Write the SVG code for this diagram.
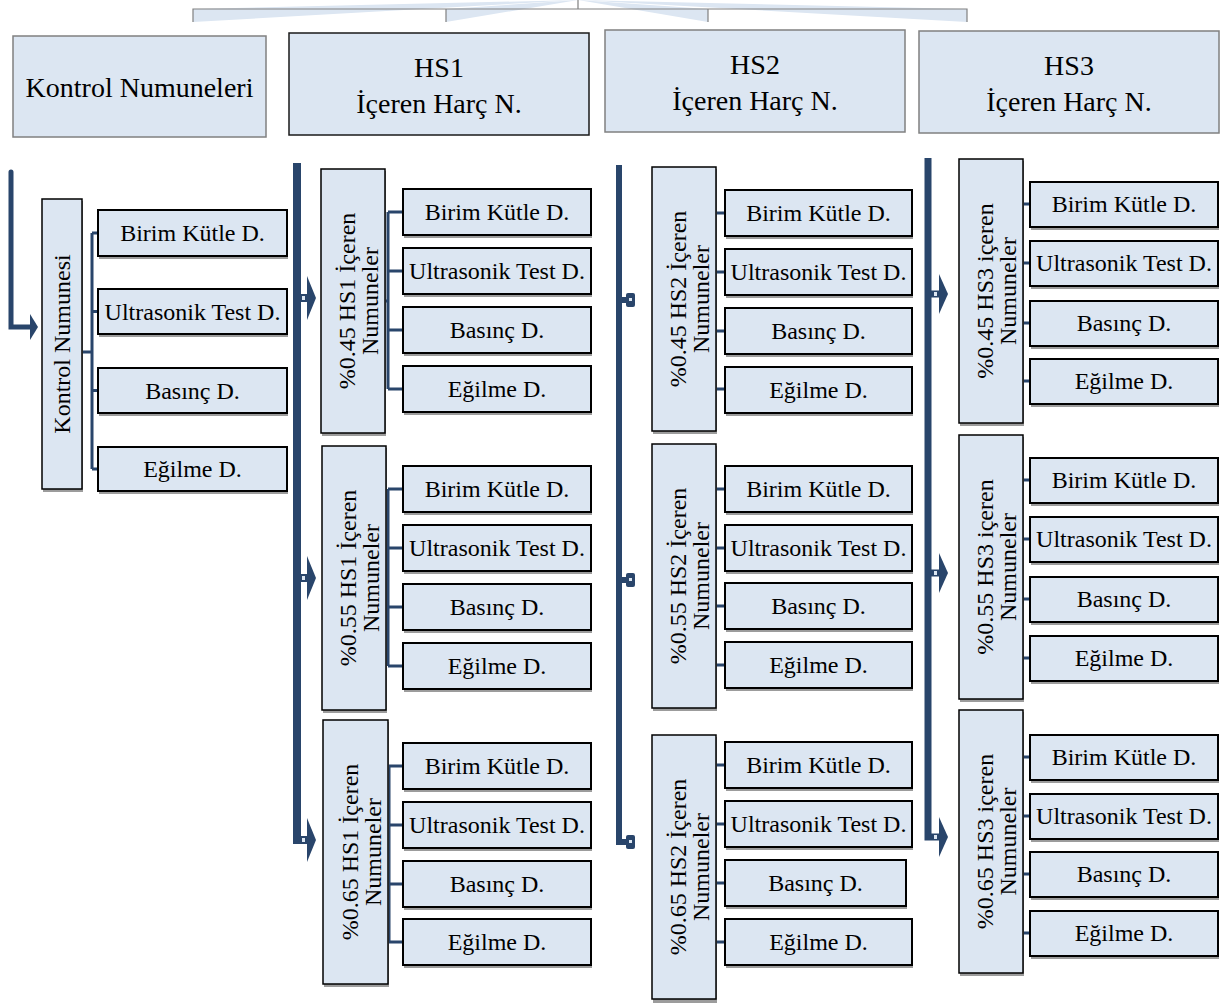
<svg xmlns="http://www.w3.org/2000/svg" width="1225" height="1003" viewBox="0 0 1225 1003">
<style>
.hdr{fill:#dce6f2;stroke:#808080;stroke-width:1.5}
.hdrk{fill:#dce6f2;stroke:#1a1a1a;stroke-width:1.5}
.box{fill:#dce6f2;stroke:#000;stroke-width:2}
.vbox{fill:#dce6f2;stroke:#000;stroke-width:1.5}
.sh{fill:#9c9c9c}
.t{font-family:"Liberation Serif","Times New Roman",serif;font-size:24px;text-anchor:middle;fill:#000}
.th{font-family:"Liberation Serif","Times New Roman",serif;font-size:28px;text-anchor:middle;fill:#000}
.bar{fill:none;stroke:#29456b;stroke-linejoin:miter}
.br{fill:none;stroke:#29456b;stroke-width:3}
.head{fill:#29456b}
.wedge{fill:#dce6f2}
.tl{fill:none;stroke:#808080;stroke-width:1.2}
</style>

<g id="connectors">
  <!-- top connectors -->
  <polygon class="wedge" points="193,9 193,22 578,0"/>
  <polygon class="wedge" points="446,9 446,22 578,0"/>
  <polygon class="wedge" points="708,9 708,22 578,0"/>
  <polygon class="wedge" points="967,9 967,22 578,0"/>
  <path class="tl" d="M578,0 V9 M193,22 V9 H967 V22 M446,9 V22 M708,9 V22"/>

  <!-- left column -->
  <path class="bar" stroke-width="5" stroke-linecap="round" d="M11,172 V327 H30"/>
  <polygon class="head" points="30,314 38,327 30,340"/>
  <path class="br" d="M82,352 H92 M92,233 V469 M92,233 H98 M92,311.5 H98 M92,390.5 H98 M92,469 H98"/>

  <!-- HS1 column -->
  <path class="bar" stroke-width="8" d="M297,163 V840 H308 M297,298 H308 M297,578 H308"/>
  <polygon class="head" points="307,276 316,298 307,320"/>
  <polygon class="head" points="307,556 316,578 307,600"/>
  <polygon class="head" points="307,818 316,840 307,862"/>
  <rect x="302" y="296" width="3" height="4" fill="#dce6f2"/>
  <rect x="302" y="576" width="3" height="4" fill="#dce6f2"/>
  <rect x="302" y="838" width="3" height="4" fill="#dce6f2"/>
  <path class="br" d="M385,301 H388 M388,212 V389 M388,212 H403 M388,271 H403 M388,330 H403 M388,389 H403"/>
  <path class="br" d="M386,578 H388 M388,489 V666 M388,489 H403 M388,548 H403 M388,607 H403 M388,666 H403"/>
  <path class="br" d="M388,852 H389 M389,766 V942 M389,766 H403 M389,825 H403 M389,884 H403 M389,942 H403"/>

  <!-- HS2 column -->
  <path class="bar" stroke-width="6" d="M619,165 V842 H628 M619,300 H628 M619,580 H628"/>
  <rect class="head" x="626" y="293" width="9" height="14" rx="2"/>
  <rect class="head" x="626" y="573" width="9" height="14" rx="2"/>
  <rect class="head" x="626" y="835" width="9" height="14" rx="2"/>
  <rect x="629" y="298" width="3" height="3" fill="#dce6f2"/>
  <rect x="629" y="578" width="3" height="3" fill="#dce6f2"/>
  <rect x="629" y="840" width="3" height="3" fill="#dce6f2"/>
  <path class="br" d="M716,213 H725 M716,272 H725 M716,331 H725 M716,389 H725"/>
  <path class="br" d="M716,489 H725 M716,548 H725 M716,606 H725 M716,665 H725"/>
  <path class="br" d="M716,765 H725 M716,824 H725 M716,883 H725 M716,942 H725"/>

  <!-- HS3 column -->
  <path class="bar" stroke-width="7" d="M928,158 V837 H940 M928,294 H940 M928,573 H940"/>
  <polygon class="head" points="939,274 948,294 939,314"/>
  <polygon class="head" points="939,553 948,573 939,593"/>
  <polygon class="head" points="939,817 948,837 939,857"/>
  <rect x="934" y="292" width="3" height="4" fill="#dce6f2"/>
  <rect x="934" y="571" width="3" height="4" fill="#dce6f2"/>
  <rect x="934" y="835" width="3" height="4" fill="#dce6f2"/>
  <path class="br" d="M1023,204 H1030 M1023,263 H1030 M1023,323 H1030 M1023,381 H1030"/>
  <path class="br" d="M1023,480 H1030 M1023,539 H1030 M1023,599 H1030 M1023,658 H1030"/>
  <path class="br" d="M1023,757 H1030 M1023,816 H1030 M1023,874 H1030 M1023,933 H1030"/>
</g>

<!-- header nodes -->
<g id="kontrol-numuneleri">
  <rect class="hdr" x="13" y="36" width="253" height="101"/>
  <text class="th" x="139.5" y="97">Kontrol Numuneleri</text>
</g>
<g id="hs1">
  <rect class="hdrk" x="289" y="33" width="300" height="102"/>
  <text class="th" x="439" y="77">HS1</text>
  <text class="th" x="439" y="113">İçeren Harç N.</text>
</g>
<g id="hs2">
  <rect class="hdr" x="605" y="30" width="300" height="102"/>
  <text class="th" x="755" y="74">HS2</text>
  <text class="th" x="755" y="110">İçeren Harç N.</text>
</g>
<g id="hs3">
  <rect class="hdr" x="919" y="31" width="300" height="102"/>
  <text class="th" x="1069" y="75">HS3</text>
  <text class="th" x="1069" y="111">İçeren Harç N.</text>
</g>

<!-- Kontrol column -->
<g id="kontrol-numunesi">
  <rect class="sh" x="43" y="201" width="40" height="291"/>
  <rect class="vbox" x="42" y="199" width="40" height="290"/>
  <text class="t" transform="translate(62,344) rotate(-90)" y="8">Kontrol Numunesi</text>
</g>
<g id="k-birim"><rect class="sh" x="99" y="213" width="189" height="46"/><rect class="box" x="98" y="210" width="189" height="46"/><text class="t" x="192.5" y="241">Birim Kütle D.</text></g>
<g id="k-ultra"><rect class="sh" x="99" y="292" width="189" height="45"/><rect class="box" x="98" y="289" width="189" height="45"/><text class="t" x="192.5" y="320">Ultrasonik Test D.</text></g>
<g id="k-basinc"><rect class="sh" x="99" y="371" width="189" height="45"/><rect class="box" x="98" y="368" width="189" height="45"/><text class="t" x="192.5" y="399">Basınç D.</text></g>
<g id="k-egilme"><rect class="sh" x="99" y="450" width="189" height="44"/><rect class="box" x="98" y="447" width="189" height="44"/><text class="t" x="192.5" y="477">Eğilme D.</text></g>

<!-- HS1 column -->
<g id="hs1-045">
  <rect class="sh" x="322" y="171" width="64" height="265"/>
  <rect class="vbox" x="321" y="169" width="64" height="264"/>
  <text class="t" transform="translate(353,301) rotate(-90)"><tspan x="0" y="2">%0.45 HS1 İçeren</tspan><tspan x="0" y="25">Numuneler</tspan></text>
</g>
<g id="hs1-045-birim"><rect class="sh" x="404" y="192" width="188" height="46"/><rect class="box" x="403" y="189" width="188" height="46"/><text class="t" x="497" y="220">Birim Kütle D.</text></g>
<g id="hs1-045-ultra"><rect class="sh" x="404" y="251" width="188" height="46"/><rect class="box" x="403" y="248" width="188" height="46"/><text class="t" x="497" y="279">Ultrasonik Test D.</text></g>
<g id="hs1-045-basinc"><rect class="sh" x="404" y="310" width="188" height="46"/><rect class="box" x="403" y="307" width="188" height="46"/><text class="t" x="497" y="338">Basınç D.</text></g>
<g id="hs1-045-egilme"><rect class="sh" x="404" y="369" width="188" height="46"/><rect class="box" x="403" y="366" width="188" height="46"/><text class="t" x="497" y="397">Eğilme D.</text></g>

<g id="hs1-055">
  <rect class="sh" x="323" y="448" width="64" height="265"/>
  <rect class="vbox" x="322" y="446" width="64" height="264"/>
  <text class="t" transform="translate(354,578) rotate(-90)"><tspan x="0" y="2">%0.55 HS1 İçeren</tspan><tspan x="0" y="25">Numuneler</tspan></text>
</g>
<g id="hs1-055-birim"><rect class="sh" x="404" y="469" width="188" height="46"/><rect class="box" x="403" y="466" width="188" height="46"/><text class="t" x="497" y="497">Birim Kütle D.</text></g>
<g id="hs1-055-ultra"><rect class="sh" x="404" y="528" width="188" height="46"/><rect class="box" x="403" y="525" width="188" height="46"/><text class="t" x="497" y="556">Ultrasonik Test D.</text></g>
<g id="hs1-055-basinc"><rect class="sh" x="404" y="587" width="188" height="46"/><rect class="box" x="403" y="584" width="188" height="46"/><text class="t" x="497" y="615">Basınç D.</text></g>
<g id="hs1-055-egilme"><rect class="sh" x="404" y="646" width="188" height="46"/><rect class="box" x="403" y="643" width="188" height="46"/><text class="t" x="497" y="674">Eğilme D.</text></g>

<g id="hs1-065">
  <rect class="sh" x="324" y="722" width="65" height="265"/>
  <rect class="vbox" x="323" y="720" width="65" height="264"/>
  <text class="t" transform="translate(355.5,852) rotate(-90)"><tspan x="0" y="2">%0.65 HS1 İçeren</tspan><tspan x="0" y="25">Numuneler</tspan></text>
</g>
<g id="hs1-065-birim"><rect class="sh" x="404" y="746" width="188" height="46"/><rect class="box" x="403" y="743" width="188" height="46"/><text class="t" x="497" y="774">Birim Kütle D.</text></g>
<g id="hs1-065-ultra"><rect class="sh" x="404" y="805" width="188" height="46"/><rect class="box" x="403" y="802" width="188" height="46"/><text class="t" x="497" y="833">Ultrasonik Test D.</text></g>
<g id="hs1-065-basinc"><rect class="sh" x="404" y="864" width="188" height="46"/><rect class="box" x="403" y="861" width="188" height="46"/><text class="t" x="497" y="892">Basınç D.</text></g>
<g id="hs1-065-egilme"><rect class="sh" x="404" y="922" width="188" height="46"/><rect class="box" x="403" y="919" width="188" height="46"/><text class="t" x="497" y="950">Eğilme D.</text></g>

<!-- HS2 column -->
<g id="hs2-045">
  <rect class="sh" x="653" y="169" width="64" height="265"/>
  <rect class="vbox" x="652" y="167" width="64" height="264"/>
  <text class="t" transform="translate(684,299) rotate(-90)"><tspan x="0" y="2">%0.45 HS2 İçeren</tspan><tspan x="0" y="25">Numuneler</tspan></text>
</g>
<g id="hs2-045-birim"><rect class="sh" x="726" y="193" width="187" height="46"/><rect class="box" x="725" y="190" width="187" height="46"/><text class="t" x="818.5" y="221">Birim Kütle D.</text></g>
<g id="hs2-045-ultra"><rect class="sh" x="726" y="252" width="187" height="46"/><rect class="box" x="725" y="249" width="187" height="46"/><text class="t" x="818.5" y="280">Ultrasonik Test D.</text></g>
<g id="hs2-045-basinc"><rect class="sh" x="726" y="311" width="187" height="46"/><rect class="box" x="725" y="308" width="187" height="46"/><text class="t" x="818.5" y="339">Basınç D.</text></g>
<g id="hs2-045-egilme"><rect class="sh" x="726" y="370" width="187" height="46"/><rect class="box" x="725" y="367" width="187" height="46"/><text class="t" x="818.5" y="398">Eğilme D.</text></g>

<g id="hs2-055">
  <rect class="sh" x="653" y="446" width="64" height="265"/>
  <rect class="vbox" x="652" y="444" width="64" height="264"/>
  <text class="t" transform="translate(684,576) rotate(-90)"><tspan x="0" y="2">%0.55 HS2 İçeren</tspan><tspan x="0" y="25">Numuneler</tspan></text>
</g>
<g id="hs2-055-birim"><rect class="sh" x="726" y="469" width="187" height="46"/><rect class="box" x="725" y="466" width="187" height="46"/><text class="t" x="818.5" y="497">Birim Kütle D.</text></g>
<g id="hs2-055-ultra"><rect class="sh" x="726" y="528" width="187" height="46"/><rect class="box" x="725" y="525" width="187" height="46"/><text class="t" x="818.5" y="556">Ultrasonik Test D.</text></g>
<g id="hs2-055-basinc"><rect class="sh" x="726" y="586" width="187" height="46"/><rect class="box" x="725" y="583" width="187" height="46"/><text class="t" x="818.5" y="614">Basınç D.</text></g>
<g id="hs2-055-egilme"><rect class="sh" x="726" y="645" width="187" height="46"/><rect class="box" x="725" y="642" width="187" height="46"/><text class="t" x="818.5" y="673">Eğilme D.</text></g>

<g id="hs2-065">
  <rect class="sh" x="653" y="737" width="64" height="266"/>
  <rect class="vbox" x="652" y="735" width="64" height="264"/>
  <text class="t" transform="translate(684,867) rotate(-90)"><tspan x="0" y="2">%0.65 HS2 İçeren</tspan><tspan x="0" y="25">Numuneler</tspan></text>
</g>
<g id="hs2-065-birim"><rect class="sh" x="726" y="745" width="187" height="46"/><rect class="box" x="725" y="742" width="187" height="46"/><text class="t" x="818.5" y="773">Birim Kütle D.</text></g>
<g id="hs2-065-ultra"><rect class="sh" x="726" y="804" width="187" height="46"/><rect class="box" x="725" y="801" width="187" height="46"/><text class="t" x="818.5" y="832">Ultrasonik Test D.</text></g>
<g id="hs2-065-basinc"><rect class="sh" x="726" y="863" width="181" height="46"/><rect class="box" x="725" y="860" width="181" height="46"/><text class="t" x="815.5" y="891">Basınç D.</text></g>
<g id="hs2-065-egilme"><rect class="sh" x="726" y="922" width="187" height="46"/><rect class="box" x="725" y="919" width="187" height="46"/><text class="t" x="818.5" y="950">Eğilme D.</text></g>

<!-- HS3 column -->
<g id="hs3-045">
  <rect class="sh" x="960" y="161" width="64" height="265"/>
  <rect class="vbox" x="959" y="159" width="64" height="264"/>
  <text class="t" transform="translate(991,291) rotate(-90)"><tspan x="0" y="2">%0.45 HS3 içeren</tspan><tspan x="0" y="25">Numuneler</tspan></text>
</g>
<g id="hs3-045-birim"><rect class="sh" x="1031" y="185" width="188" height="45"/><rect class="box" x="1030" y="182" width="188" height="45"/><text class="t" x="1124" y="212">Birim Kütle D.</text></g>
<g id="hs3-045-ultra"><rect class="sh" x="1031" y="244" width="188" height="45"/><rect class="box" x="1030" y="241" width="188" height="45"/><text class="t" x="1124" y="271">Ultrasonik Test D.</text></g>
<g id="hs3-045-basinc"><rect class="sh" x="1031" y="304" width="188" height="45"/><rect class="box" x="1030" y="301" width="188" height="45"/><text class="t" x="1124" y="331">Basınç D.</text></g>
<g id="hs3-045-egilme"><rect class="sh" x="1031" y="362" width="188" height="45"/><rect class="box" x="1030" y="359" width="188" height="45"/><text class="t" x="1124" y="389">Eğilme D.</text></g>

<g id="hs3-055">
  <rect class="sh" x="960" y="437" width="64" height="265"/>
  <rect class="vbox" x="959" y="435" width="64" height="264"/>
  <text class="t" transform="translate(991,567) rotate(-90)"><tspan x="0" y="2">%0.55 HS3 içeren</tspan><tspan x="0" y="25">Numuneler</tspan></text>
</g>
<g id="hs3-055-birim"><rect class="sh" x="1031" y="461" width="188" height="45"/><rect class="box" x="1030" y="458" width="188" height="45"/><text class="t" x="1124" y="488">Birim Kütle D.</text></g>
<g id="hs3-055-ultra"><rect class="sh" x="1031" y="520" width="188" height="45"/><rect class="box" x="1030" y="517" width="188" height="45"/><text class="t" x="1124" y="547">Ultrasonik Test D.</text></g>
<g id="hs3-055-basinc"><rect class="sh" x="1031" y="580" width="188" height="45"/><rect class="box" x="1030" y="577" width="188" height="45"/><text class="t" x="1124" y="607">Basınç D.</text></g>
<g id="hs3-055-egilme"><rect class="sh" x="1031" y="639" width="188" height="45"/><rect class="box" x="1030" y="636" width="188" height="45"/><text class="t" x="1124" y="666">Eğilme D.</text></g>

<g id="hs3-065">
  <rect class="sh" x="960" y="712" width="64" height="264"/>
  <rect class="vbox" x="959" y="710" width="64" height="263"/>
  <text class="t" transform="translate(991,841.5) rotate(-90)"><tspan x="0" y="2">%0.65 HS3 içeren</tspan><tspan x="0" y="25">Numuneler</tspan></text>
</g>
<g id="hs3-065-birim"><rect class="sh" x="1031" y="738" width="188" height="45"/><rect class="box" x="1030" y="735" width="188" height="45"/><text class="t" x="1124" y="765">Birim Kütle D.</text></g>
<g id="hs3-065-ultra"><rect class="sh" x="1031" y="797" width="188" height="45"/><rect class="box" x="1030" y="794" width="188" height="45"/><text class="t" x="1124" y="824">Ultrasonik Test D.</text></g>
<g id="hs3-065-basinc"><rect class="sh" x="1031" y="855" width="188" height="45"/><rect class="box" x="1030" y="852" width="188" height="45"/><text class="t" x="1124" y="882">Basınç D.</text></g>
<g id="hs3-065-egilme"><rect class="sh" x="1031" y="914" width="188" height="45"/><rect class="box" x="1030" y="911" width="188" height="45"/><text class="t" x="1124" y="941">Eğilme D.</text></g>
</svg>
